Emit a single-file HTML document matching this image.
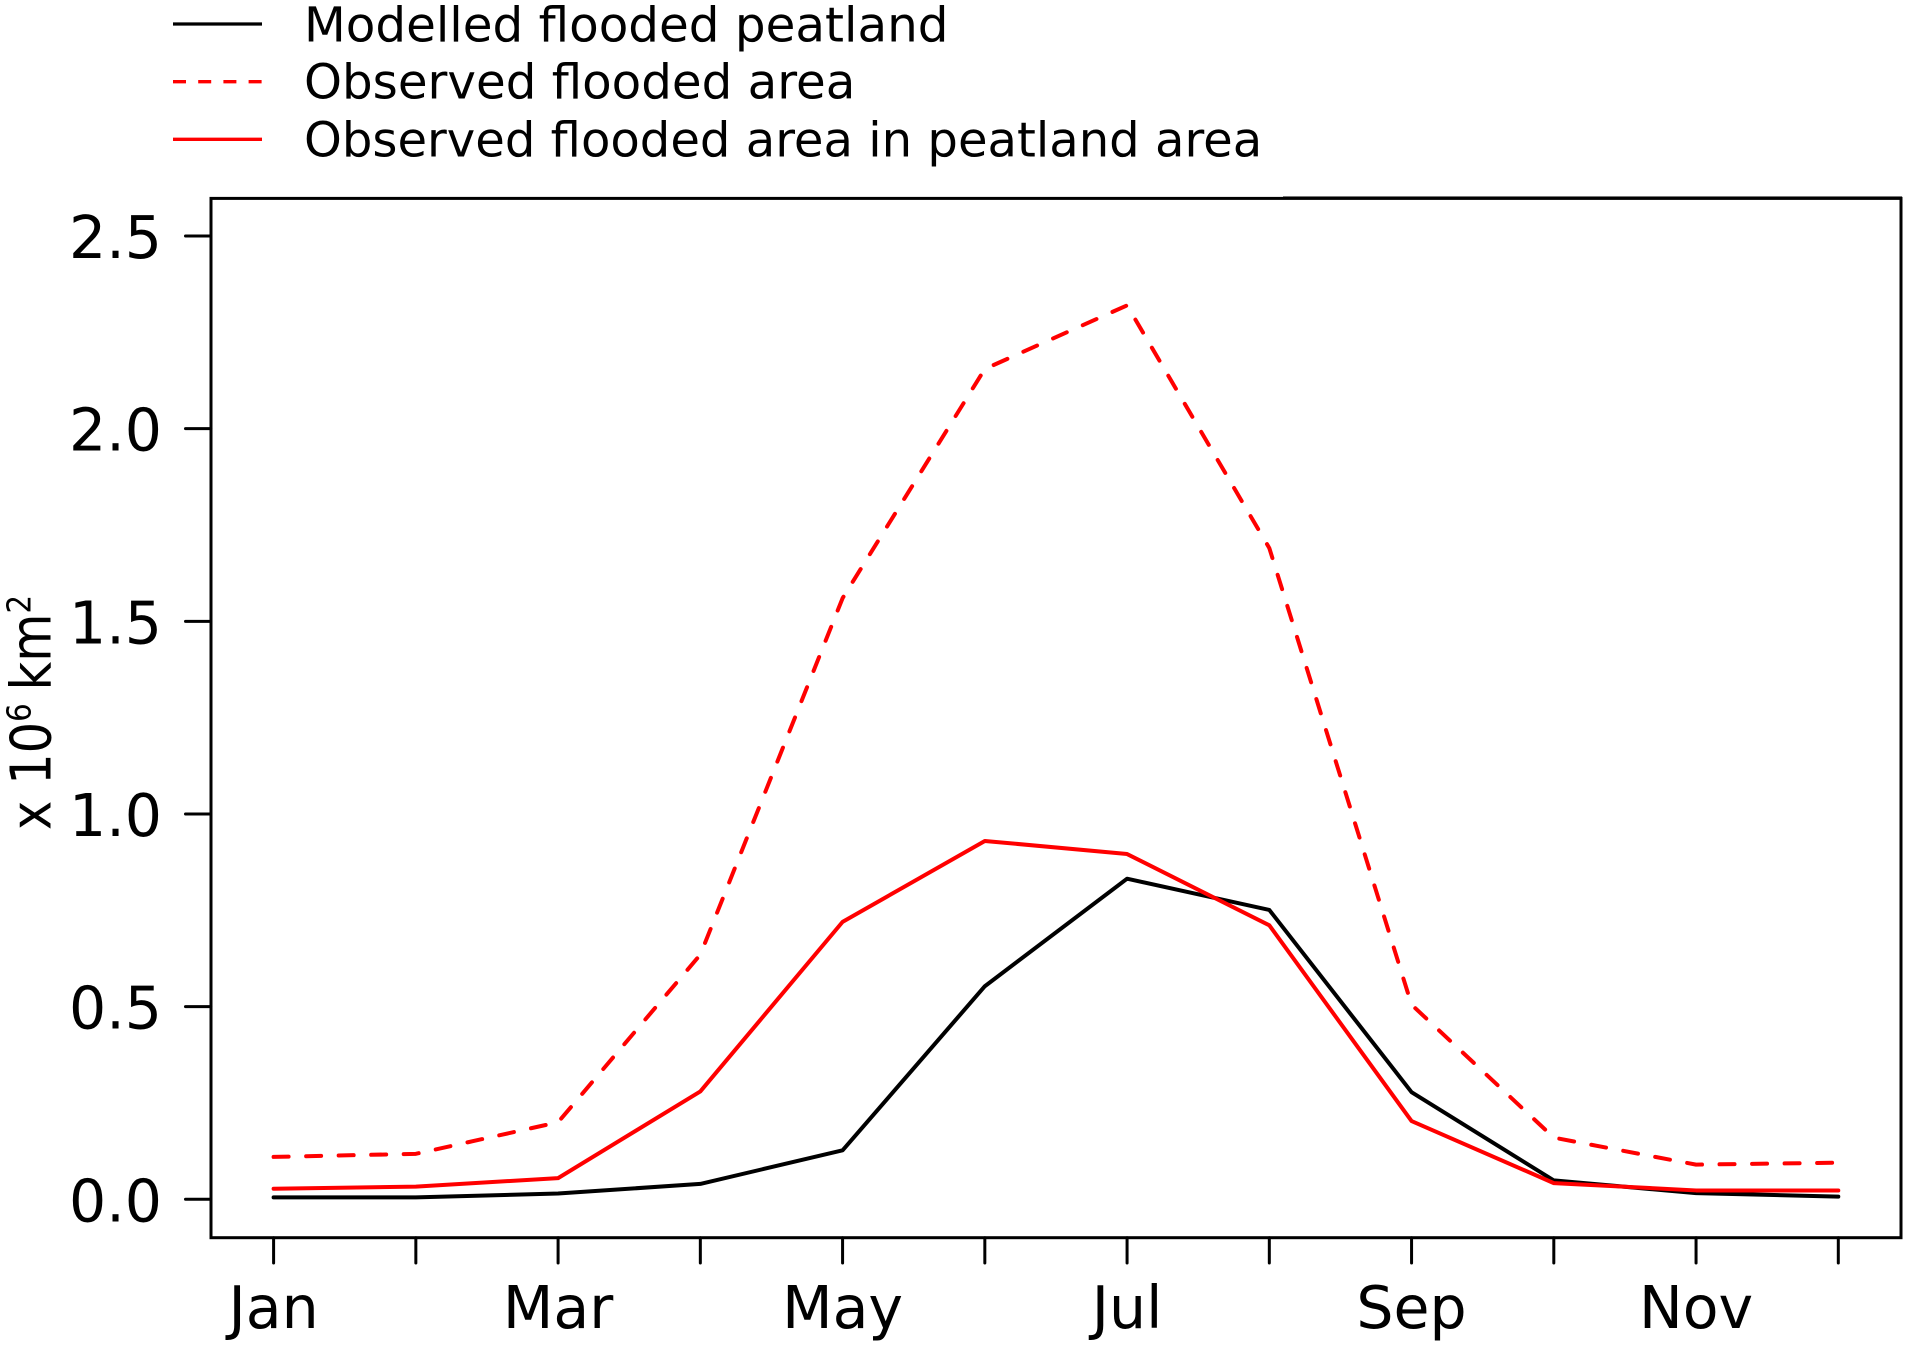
<!DOCTYPE html>
<html lang="en">
<head>
<meta charset="utf-8">
<title>Flooded area seasonal cycle</title>
<style>
  html, body { margin: 0; padding: 0; background: #fff; }
  svg { display: block; font-family: "DejaVu Sans", "Liberation Sans", sans-serif; }
</style>
</head>
<body>
<svg id="chart" xmlns="http://www.w3.org/2000/svg" width="1909" height="1346" viewBox="0 0 1909 1346">
  <rect x="0" y="0" width="1909" height="1346" fill="#fff"/>
  <g>
    <g>
      <line x1="173" y1="24" x2="262" y2="24" stroke="#000" stroke-width="3.3"/>
      <text x="304" y="41.5" font-size="48.4" fill="#000">Modelled flooded peatland</text>
    </g>
    <g>
      <line x1="173" y1="81.7" x2="262" y2="81.7" stroke="#f00" stroke-width="3.3" stroke-dasharray="13 12.2"/>
      <text x="304" y="98.5" font-size="48.3" fill="#000">Observed flooded area</text>
    </g>
    <g>
      <line x1="173" y1="139.3" x2="262" y2="139.3" stroke="#f00" stroke-width="3.3"/>
      <text x="304" y="156.7" font-size="48.1" fill="#000">Observed flooded area in peatland area</text>
    </g>
  </g>
  <g id="series"></g>
  <rect x="211" y="198.4" width="1690" height="1039.3" fill="none" stroke="#000" stroke-width="3"/>
  <line x1="1283" y1="196.5" x2="1902" y2="196.5" stroke="#777" stroke-width="1"/>
  <g id="x-axis"></g>
  <g id="y-axis"></g>
  <text transform="translate(50.7 830) rotate(-90) scale(0.885 1)" font-size="56" fill="#000">x 10<tspan font-size="33" dy="-20">6</tspan><tspan dy="20" dx="14.5">km</tspan><tspan font-size="33" dy="-20">2</tspan></text>
</svg>
<script>
const months = ["Jan", "Feb", "Mar", "Apr", "May", "Jun", "Jul", "Aug", "Sep", "Oct", "Nov", "Dec"];
const xTickLabels = ["Jan", "", "Mar", "", "May", "", "Jul", "", "Sep", "", "Nov", ""];
const yTicks = [0, 0.5, 1, 1.5, 2, 2.5];
const yTickLabels = ["0.0", "0.5", "1.0", "1.5", "2.0", "2.5"];
const modelledPeatland = [0.005, 0.005, 0.015, 0.04, 0.127, 0.553, 0.832, 0.751, 0.278, 0.049, 0.016, 0.007];
const observedFlooded = [0.11, 0.118, 0.2, 0.635, 1.56, 2.155, 2.32, 1.69, 0.505, 0.16, 0.09, 0.095];
const observedPeatland = [0.0275, 0.033, 0.055, 0.28, 0.72, 0.93, 0.896, 0.711, 0.203, 0.042, 0.023, 0.023];

const NS = "http://www.w3.org/2000/svg";
function xScale(i) { return 273.6 + i * (1838.3 - 273.6) / 11; }
function yScale(v) { return 1199.3 - v * (1199.3 - 236) / 2.5; }
function make(tag, attrs) {
  const el = document.createElementNS(NS, tag);
  for (const k in attrs) el.setAttribute(k, attrs[k]);
  return el;
}
function linePoints(values) {
  return values.map((v, i) => xScale(i).toFixed(2) + "," + yScale(v).toFixed(2)).join(" ");
}

const seriesGroup = document.getElementById("series");

const lineModelled = make("polyline", { points: linePoints(modelledPeatland), fill: "none", stroke: "#000", "stroke-width": 4, "stroke-linejoin": "round", "stroke-linecap": "round" });


seriesGroup.appendChild(lineModelled);

const lineObserved = make("polyline", { points: linePoints(observedFlooded), fill: "none", stroke: "#f00", "stroke-width": 4, "stroke-linejoin": "round", "stroke-linecap": "round", "stroke-dasharray": "15 17.53" });


seriesGroup.appendChild(lineObserved);

const linePeat = make("polyline", { points: linePoints(observedPeatland), fill: "none", stroke: "#f00", "stroke-width": 4, "stroke-linejoin": "round", "stroke-linecap": "round" });


seriesGroup.appendChild(linePeat);

const xAxis = document.getElementById("x-axis");
months.forEach((m, i) => {
  const tick = make("line", { x1: xScale(i), x2: xScale(i), y1: 1237.7, y2: 1263, stroke: "#000", "stroke-width": 3, "stroke-linecap": "round" });
  
  
  xAxis.appendChild(tick);
  if (xTickLabels[i]) {
    const label = make("text", { x: xScale(i), y: 1328, "text-anchor": "middle", "font-size": 58.5, fill: "#000" });
    label.textContent = xTickLabels[i];
    
    
    xAxis.appendChild(label);
  }
});

const yAxis = document.getElementById("y-axis");
yTicks.forEach((t, i) => {
  const y = yScale(t);
  const tick = make("line", { x1: 185.5, x2: 211, y1: y, y2: y, stroke: "#000", "stroke-width": 3, "stroke-linecap": "round" });
  
  
  yAxis.appendChild(tick);
  const label = make("text", { x: 115.5, y: y + 22, "text-anchor": "middle", "font-size": 58.5, fill: "#000" });
  label.textContent = yTickLabels[i];
  
  
  yAxis.appendChild(label);
});
</script>
</body>
</html>
